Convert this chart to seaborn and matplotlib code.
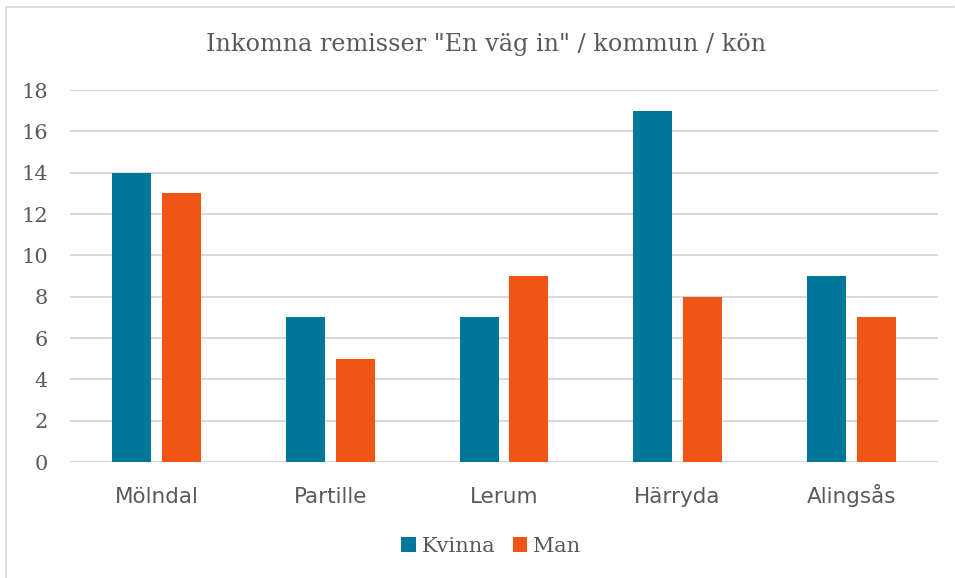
import matplotlib
matplotlib.use("Agg")
import matplotlib.pyplot as plt
from matplotlib.lines import Line2D
import seaborn as sns
import pandas as pd

# --- data ---
kommuner = ["Mölndal", "Partille", "Lerum", "Härryda", "Alingsås"]
kvinna = [14, 7, 7, 17, 9]
man = [13, 5, 9, 8, 7]
serier = ["Kvinna", "Man"]
y_ticks = [0, 2, 4, 6, 8, 10, 12, 14, 16, 18]

data = pd.DataFrame({
    "Kommun": kommuner * 2,
    "Antal": kvinna + man,
    "Kön": ["Kvinna"] * len(kommuner) + ["Man"] * len(kommuner),
})

sns.set_style("white")
text_grey = "#595959"
palette = {"Kvinna": "#00769A", "Man": "#F05515"}

W, H = 955, 578
fig = plt.figure(figsize=(W / 100, H / 100), dpi=100)
ax = fig.add_axes([70 / W, (H - 462) / H, (938 - 70) / W, (462 - 90) / H])

sns.barplot(data=data, x="Kommun", y="Antal", hue="Kön", hue_order=serier,
            palette=palette, width=0.576, gap=0.22, saturation=1,
            linewidth=0, ax=ax, legend=True)

ax.set_ylim(0, 18)
ax.set_yticks(y_ticks)
ax.set_yticklabels([str(t) for t in y_ticks], family="DejaVu Serif",
                   fontsize=15, color=text_grey)
ax.set_xticks(range(len(kommuner)))
ax.set_xticklabels(kommuner, family="DejaVu Sans", fontsize=15.5, color=text_grey,
                   va="baseline")
ax.tick_params(axis="both", length=0)
ax.tick_params(axis="y", pad=16)
ax.tick_params(axis="x", pad=29.5)
ax.set_xlabel("")
ax.set_ylabel("")
ax.set_axisbelow(True)
ax.yaxis.grid(True, color="#D9D9D9", linewidth=1.4)
for s in ax.spines.values():
    s.set_visible(False)

handles, labels = ax.get_legend_handles_labels()
ax.get_legend().remove()
fig.legend(handles, labels, loc="center", bbox_to_anchor=(491 / W, 1 - 546 / H),
           ncol=2, frameon=False, handlelength=0.7, handleheight=0.7,
           handletextpad=0.3, columnspacing=0.8,
           prop={"family": "DejaVu Serif", "size": 15}, labelcolor=text_grey)

fig.text(486 / W, 1 - 44 / H, 'Inkomna remisser "En väg in" / kommun / kön',
         ha="center", va="center", family="DejaVu Serif", fontsize=17.2,
         color=text_grey)

# figure frame (top and left edges only)
fig.add_artist(Line2D([6 / W, 6 / W], [0, 1 - 7 / H], transform=fig.transFigure,
                      color="#D9D9D9", linewidth=1.3))
fig.add_artist(Line2D([6 / W, 954 / W], [1 - 7 / H, 1 - 7 / H], transform=fig.transFigure,
                      color="#D9D9D9", linewidth=1.3))

fig.savefig("out.png", dpi=100)
